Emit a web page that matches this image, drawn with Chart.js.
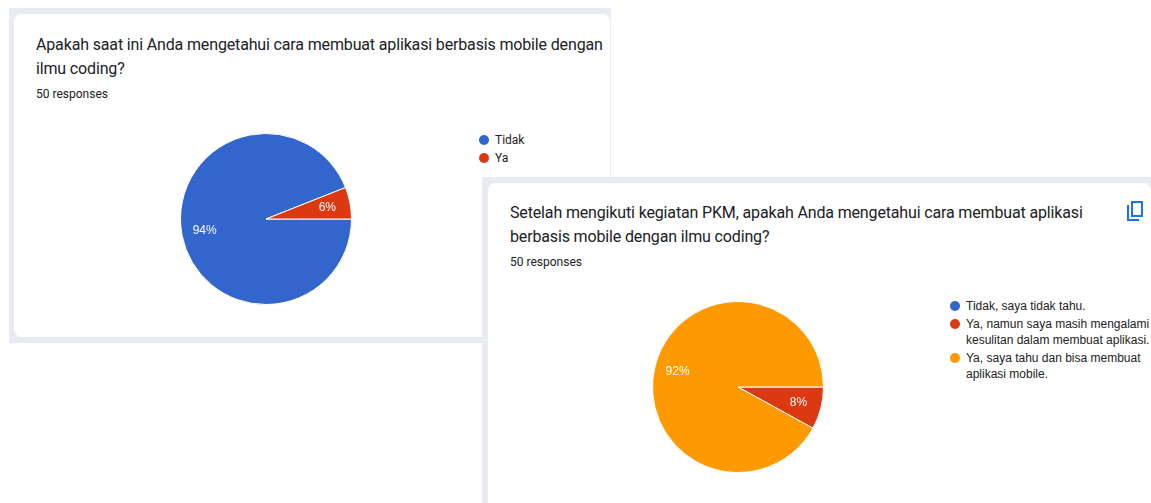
<!DOCTYPE html>
<html>
<head>
<meta charset="utf-8">
<script src="https://cdn.jsdelivr.net/npm/chart.js@4/dist/chart.umd.min.js"></script>
<style>
  body { margin: 0; width: 1151px; height: 503px; background: #fff; position: relative; overflow: hidden; font-family: Roboto, Arial, sans-serif; }
  .frame { position: absolute; background: #e9ebf4; }
  .card { position: absolute; background: #fff; border-radius: 8px; }
  .title { position: absolute; font-size: 16px; line-height: 24px; color: #202124; letter-spacing: -0.15px; }
  .count { position: absolute; font-size: 12px; color: #202124; }
  canvas { position: absolute; }
  .legend { position: absolute; font-size: 12px; color: #222; }
  .legend .item { position: relative; padding-left: 11px; }
  .legend .dot { position: absolute; left: -5px; width: 10px; height: 10px; border-radius: 50%; }
  #legend2 { font-family: "Liberation Sans", Arial, sans-serif; line-height: 16px; }
  #legend2 .item { margin-bottom: 2px; }
  #legend2 .dot { top: 3px; }
  #legend1 { line-height: 18px; }
  #legend1 .dot { top: 4px; }
</style>
</head>
<body>
<div class="frame" style="left:9px;top:8px;width:602px;height:335px;"></div>
<div class="card" style="left:14px;top:14px;width:596px;height:323px;"></div>
<div class="title" style="left:36px;top:33px;">Apakah saat ini Anda mengetahui cara membuat aplikasi berbasis mobile dengan<br>ilmu coding?</div>
<div class="count" style="left:36px;top:87px;">50 responses</div>
<canvas id="pie1" width="172" height="172" style="left:180px;top:133px;"></canvas>
<div class="legend" id="legend1" style="left:484px;top:131px;"></div>

<div class="frame" style="left:482px;top:177px;width:669px;height:326px;"></div>
<div class="card" style="left:488px;top:183px;width:663px;height:330px;"></div>
<div class="title" style="left:510px;top:201px;">Setelah mengikuti kegiatan PKM, apakah Anda mengetahui cara membuat aplikasi<br>berbasis mobile dengan ilmu coding?</div>
<div class="count" style="left:510px;top:255px;">50 responses</div>
<svg style="position:absolute;left:1125px;top:199px;" width="22" height="24" viewBox="0 0 22 24">
  <path d="M7 3 H17 V17 H7 Z" fill="none" stroke="#1a73e8" stroke-width="2"/>
  <path d="M3 6 V21 H14" fill="none" stroke="#1a73e8" stroke-width="2"/>
</svg>
<canvas id="pie2" width="172" height="172" style="left:652px;top:301px;"></canvas>
<div class="legend" id="legend2" style="left:955px;top:298px;"></div>

<script>
const q1Labels = ["Tidak", "Ya"];
const q1Values = [47, 3];
const q2Labels = [
  "Tidak, saya tidak tahu.",
  "Ya, namun saya masih mengalami<br>kesulitan dalam membuat aplikasi.",
  "Ya, saya tahu dan bisa membuat<br>aplikasi mobile."
];
const q2Values = [0, 4, 46];
const sliceColors = ["#3366cc", "#dc3912", "#ff9900"];

// percent labels inside slices, like google forms
const pctLabels = {
  id: "pctLabels",
  afterDatasetsDraw(chart) {
    const ctx = chart.ctx;
    const values = chart.data.datasets[0].data;
    const total = values.reduce((a, b) => a + b, 0);
    chart.getDatasetMeta(0).data.forEach((arc, i) => {
      if (!values[i]) return;
      const mid = (arc.startAngle + arc.endAngle) / 2;
      const r = arc.outerRadius * 0.73;
      ctx.save();
      ctx.fillStyle = "#fff";
      ctx.font = "12px 'Liberation Sans', Arial, sans-serif";
      ctx.textAlign = "center";
      ctx.textBaseline = "middle";
      ctx.fillText(Math.round(values[i] / total * 100) + "%", arc.x + Math.cos(mid) * r, arc.y + Math.sin(mid) * r);
      ctx.restore();
    });
  }
};

function makePie(id, labels, values) {
  new Chart(document.getElementById(id), {
    type: "pie",
    data: {
      labels: labels,
      datasets: [{
        data: values,
        backgroundColor: sliceColors.slice(0, values.length),
        borderColor: "#fff",
        borderWidth: 1
      }]
    },
    options: {
      responsive: false,
      animation: false,
      rotation: 90,
      plugins: {
        legend: { display: false },
        tooltip: { enabled: false }
      }
    },
    plugins: [pctLabels]
  });
}

function makeLegend(id, labels) {
  const el = document.getElementById(id);
  el.innerHTML = labels.map((l, i) =>
    '<div class="item"><span class="dot" style="background:' + sliceColors[i] + '"></span>' + l + '</div>'
  ).join("");
}

makePie("pie1", q1Labels, q1Values);
makePie("pie2", q2Labels, q2Values);
makeLegend("legend1", q1Labels);
makeLegend("legend2", q2Labels);
</script>
</body>
</html>
